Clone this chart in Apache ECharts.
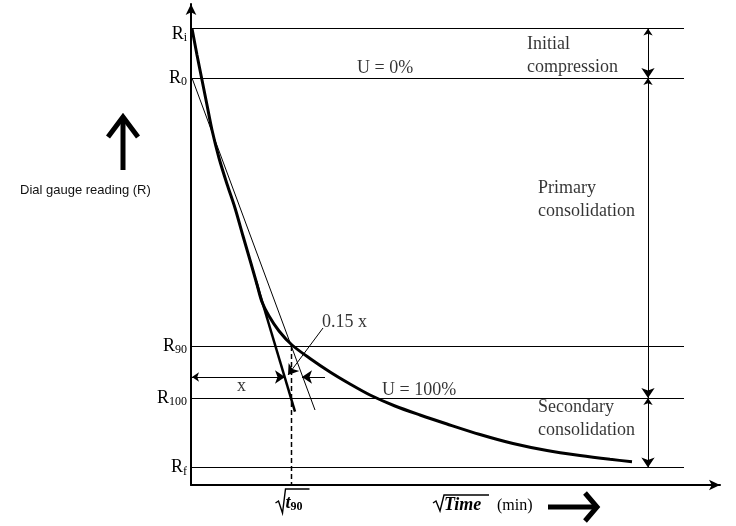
<!DOCTYPE html>
<html>
<head>
<meta charset="utf-8">
<script src="https://cdn.jsdelivr.net/npm/echarts@6/dist/echarts.min.js"></script>
<style>
  html, body { margin: 0; background: #fff; }
  #main { width: 736px; height: 526px; }
</style>
</head>
<body>
<div id="main"></div>
<script>
// dial reading (y) against sqrt(time) (x), arbitrary units
const levelValues = [456.5, 407, 139, 87, 17.5]
const levelEnd = 493
// the R labels; R_i sits a little under its line
const labelNames = ['i', '0', '90', '100', 'f']
const labelValues = [451, 407, 139, 87, 17.5]

const curveX = [1, 6, 11, 16, 21, 28, 36, 44, 52, 60, 66, 71, 78, 88, 101, 119, 139, 159, 179,
  204, 229, 256, 289, 322, 356, 389, 419, 441]
const curveY = [456.5, 430, 405, 380, 355, 327, 301, 277, 249, 221.5, 200.5, 183, 169, 154, 140, 126.5,
  113, 101, 90, 79, 70, 61, 50.5, 41.5, 34.5, 29.5, 25.7, 23.3]

const tangentThick = [[65, 204], [104, 73.3]]
const tangentThin = [[1, 407], [124, 75]]
const t90X = 100.5

// dimension arrows
const doubleArrows = [
  [[1, 108], [94, 108]],
  [[457, 456.5], [457, 407]],
  [[457, 407], [457, 87]],
  [[457, 87], [457, 17.5]]
]
const singleArrows = [
  [[134, 108], [111, 108]],
  [[132, 157], [97, 110]]
]

const noteNames = ['U = 0%', 'Initial\ncompression', 'Primary\nconsolidation',
  'Secondary\nconsolidation', 'U = 100%', '0.15 x', 'x']
const noteX = [166, 336, 347, 347, 191, 131, 46]
const noteY = [417, 429.5, 285.5, 66, 95, 163, 99]

const serif = '"Liberation Serif", "Times New Roman", serif'

var myChart = echarts.init(document.getElementById('main'))

const axisLine = {
  lineStyle: { color: '#000', width: 2 },
  symbol: ['none', 'arrow'],
  symbolSize: [8, 11]
}

var option = {
  animation: false,
  grid: { left: 191, right: 16, top: 4, bottom: 41 },
  xAxis: {
    type: 'value',
    min: 0,
    max: 529,
    axisLine: axisLine,
    axisTick: { show: false },
    axisLabel: { show: false },
    splitLine: { show: false }
  },
  yAxis: {
    type: 'value',
    min: 0,
    max: 481,
    axisLine: axisLine,
    axisTick: { show: false },
    splitLine: { show: false },
    axisLabel: {
      customValues: labelValues,
      margin: 4,
      formatter: function (v) {
        return '{r|R}{s|' + labelNames[labelValues.indexOf(v)] + '}'
      },
      rich: {
        r: { fontFamily: serif, fontSize: 18, lineHeight: 20, color: '#000' },
        s: { fontFamily: serif, fontSize: 12, lineHeight: 12, verticalAlign: 'bottom', color: '#000' }
      }
    }
  },
  series: [
    {
      name: 'levels',
      type: 'lines',
      coordinateSystem: 'cartesian2d',
      lineStyle: { color: '#000', width: 1, opacity: 1 },
      data: levelValues.map(v => ({ coords: [[0, v], [levelEnd, v]] }))
    },
    {
      name: 'thin tangent',
      type: 'line',
      showSymbol: false,
      lineStyle: { color: '#000', width: 1 },
      data: tangentThin
    },
    {
      name: 'thick tangent',
      type: 'line',
      showSymbol: false,
      lineStyle: { color: '#000', width: 2.5 },
      data: tangentThick
    },
    {
      name: 'curve',
      type: 'line',
      showSymbol: false,
      smooth: 0.3,
      lineStyle: { color: '#000', width: 3 },
      data: curveX.map((x, i) => [x, curveY[i]])
    },
    {
      name: 't90',
      type: 'line',
      showSymbol: false,
      lineStyle: { color: '#000', width: 1.5, type: [5, 3] },
      data: [[t90X, levelValues[2]], [t90X, 0]]
    },
    {
      name: 'double arrows',
      type: 'lines',
      coordinateSystem: 'cartesian2d',
      symbol: ['arrow', 'arrow'],
      symbolSize: [7, 10],
      lineStyle: { color: '#000', width: 1, opacity: 1 },
      data: doubleArrows.map(c => ({ coords: c }))
    },
    {
      name: 'single arrows',
      type: 'lines',
      coordinateSystem: 'cartesian2d',
      symbol: ['none', 'arrow'],
      symbolSize: [7, 10],
      lineStyle: { color: '#000', width: 1, opacity: 1 },
      data: singleArrows.map(c => ({ coords: c }))
    },
    {
      name: 'notes',
      type: 'scatter',
      symbolSize: 0,
      silent: true,
      label: {
        show: true,
        position: 'right',
        distance: 0,
        formatter: '{b}',
        fontFamily: serif,
        fontSize: 18,
        lineHeight: 23,
        color: '#000'
      },
      data: noteNames.map((n, i) => ({ name: n, value: [noteX[i], noteY[i]] }))
    }
  ]
}

myChart.setOption(option)

// captions outside the plot
const tp = myChart.convertToPixel({ gridIndex: 0 }, [t90X, 0])
const tx = tp[0]
const stroke = { stroke: '#000', fill: null }

myChart.setOption({
  graphic: [
    {
      type: 'text', left: 20, top: 184,
      style: { text: 'Dial gauge reading (R)', font: '13px "Liberation Sans", Arial, sans-serif', fill: '#111' }
    },
    { type: 'polyline', shape: { points: [[123, 170], [123, 117]] }, style: Object.assign({ lineWidth: 5 }, stroke) },
    { type: 'polyline', shape: { points: [[108, 137], [123, 117], [138, 137]] }, style: Object.assign({ lineWidth: 5, lineJoin: 'miter' }, stroke) },
    { type: 'polyline', shape: { points: [[548, 507], [595, 507]] }, style: Object.assign({ lineWidth: 5 }, stroke) },
    { type: 'polyline', shape: { points: [[585, 493], [597, 507], [585, 521]] }, style: Object.assign({ lineWidth: 5, lineJoin: 'miter' }, stroke) },
    // sqrt(t90)
    {
      type: 'polyline',
      shape: { points: [[tx - 16, 503], [tx - 13, 501], [tx - 9, 513], [tx - 6, 489], [tx + 18, 489]] },
      style: Object.assign({ lineWidth: 1.4 }, stroke)
    },
    {
      type: 'text', x: tx - 6, y: 493,
      style: {
        text: '{t|t}{s|90}',
        rich: {
          t: { fontFamily: serif, fontSize: 18, fontWeight: 'bold', fontStyle: 'italic', lineHeight: 20, fill: '#000' },
          s: { fontFamily: serif, fontSize: 12, fontWeight: 'bold', lineHeight: 12, verticalAlign: 'bottom', fill: '#000' }
        }
      }
    },
    // sqrt(Time) (min)
    {
      type: 'polyline',
      shape: { points: [[433, 503], [436, 501], [440, 511], [444, 495], [489, 495]] },
      style: Object.assign({ lineWidth: 1.4 }, stroke)
    },
    {
      type: 'text', x: 444, y: 496,
      style: { text: 'Time', font: 'italic bold 18px ' + serif, fill: '#000' }
    },
    {
      type: 'text', x: 497, y: 498,
      style: { text: '(min)', font: '16px ' + serif, fill: '#000' }
    }
  ]
})
</script>
</body>
</html>
